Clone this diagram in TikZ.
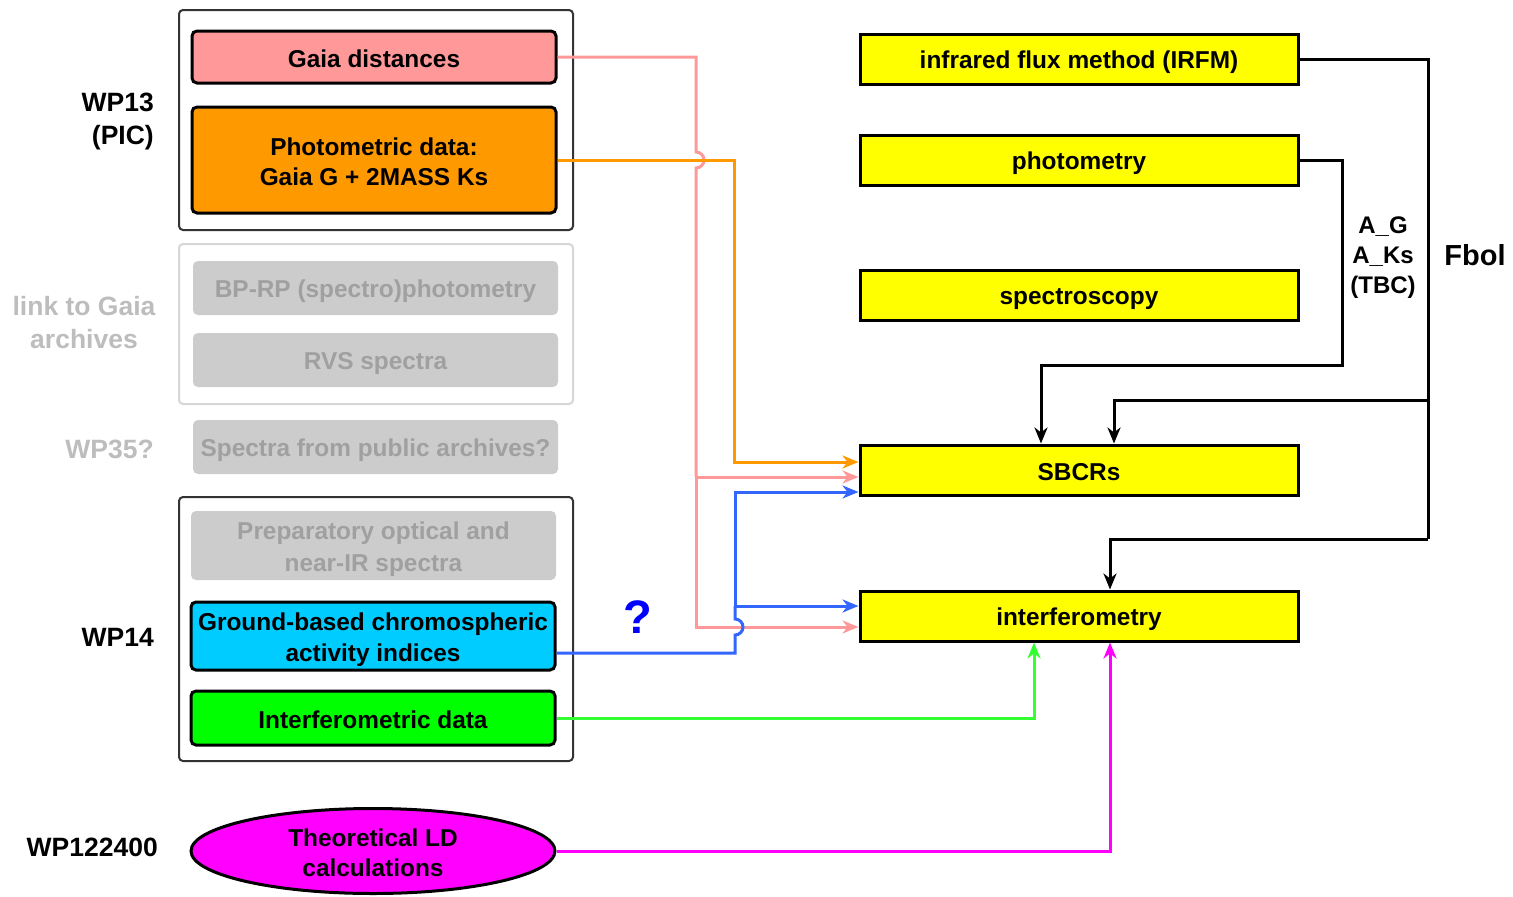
\documentclass[tikz,border=0pt]{standalone}
\usepackage{fontspec}
\setmainfont{Liberation Sans}
\usetikzlibrary{arrows.meta,calc,shapes.geometric}

\definecolor{salmonfill}{HTML}{FF9999}
\definecolor{orangefill}{HTML}{FF9900}
\definecolor{cyanfill}{HTML}{00CCFF}
\definecolor{greenfill}{HTML}{00FF00}
\definecolor{magentafill}{HTML}{FF00FF}
\definecolor{yellowfill}{HTML}{FFFF00}
\definecolor{boxgrey}{HTML}{CCCCCC}
\definecolor{greytext}{HTML}{A0A0A0}
\definecolor{labelgrey}{HTML}{BDBDBD}
\definecolor{frameblack}{HTML}{333333}
\definecolor{framegrey}{HTML}{D6D6D6}
\definecolor{pinkline}{HTML}{FF9999}
\definecolor{orangeline}{HTML}{FF9900}
\definecolor{blueline}{HTML}{3366FF}
\definecolor{greenline}{HTML}{33FF33}
\definecolor{magentaline}{HTML}{FF00FF}

\newcommand\boxfont{\fontsize{24.4}{30}\selectfont\bfseries}
\newcommand\lblfont{\fontsize{26.5}{33}\selectfont\bfseries}
% line strut: keeps the text of every box at the same optical height
\newcommand\lnstrut{\rule[-5pt]{0pt}{30pt}}

\tikzset{
  frame/.style={draw=frameblack, line width=2pt, rounded corners=4pt,
    minimum width=394pt, inner sep=0pt},
  greyframe/.style={draw=framegrey, line width=2pt, rounded corners=4pt,
    minimum width=394pt, inner sep=0pt},
  databox/.style={draw=black, line width=3pt, rounded corners=5pt,
    minimum width=364pt, inner sep=0pt, align=center, font=\boxfont},
  greybox/.style={fill=boxgrey, rounded corners=5pt, text=greytext,
    minimum width=365pt, inner sep=0pt, align=center, font=\boxfont},
  ybox/.style={draw=black, fill=yellowfill, line width=3pt,
    minimum width=438pt, minimum height=50pt, inner sep=0pt, font=\boxfont},
  sidelabel/.style={font=\lblfont, inner sep=0pt, align=right, anchor=east},
  conn/.style={line width=3pt, -{Stealth[length=16pt,width=13pt,inset=5pt]}},
  plainconn/.style={line width=3pt},
}

\begin{document}
\begin{tikzpicture}[x=1pt,y=1pt]
\useasboundingbox (0,0) rectangle (1513,-897);

% left-hand group frames
\node[frame, minimum height=220pt] (wpA) at (376,-120) {};
\node[greyframe, minimum height=160pt] (gaiaarch) at (376,-324) {};
\node[frame, minimum height=264pt] (wpB) at (376,-629) {};

% data sources
\node[databox, fill=salmonfill, minimum height=52pt] (gaia) at (374,-57) {\lnstrut Gaia distances};
\node[databox, fill=orangefill, minimum height=106pt] (photo) at (374,-160) {\lnstrut Photometric data:\\\lnstrut Gaia G + 2MASS Ks};
\node[greybox, minimum height=54pt] (bprp) at (375.5,-288) {\lnstrut BP-RP (spectro)photometry};
\node[greybox, minimum height=54pt] (rvs) at (375.5,-360) {\lnstrut RVS spectra};
\node[greybox, minimum height=54pt] (pubspec) at (375.5,-447) {\lnstrut Spectra from public archives?};
\node[greybox, minimum height=69pt] (prep) at (373.5,-545.5) {\lnstrut Preparatory optical and\\\lnstrut near-IR spectra};
\node[databox, fill=cyanfill, minimum height=68pt] (ground) at (373,-636) {\lnstrut Ground-based chromospheric\\\lnstrut activity indices};
\node[databox, fill=greenfill, minimum height=54pt] (idata) at (373,-718) {\lnstrut Interferometric data};
\node[draw=black, line width=3pt, fill=magentafill, ellipse, minimum width=364pt,
  minimum height=85pt, inner sep=0pt, align=center, font=\boxfont] (ldcalc) at (373,-851)
  {\lnstrut Theoretical LD\\\lnstrut calculations};

% work-package labels
\node[sidelabel] (lblA) at (154,-121) {WP13\\(PIC)};
\node[font=\lblfont, inner sep=0pt, align=center, text=labelgrey] (lblarch) at (84,-323) {link to Gaia\\archives};
\node[sidelabel, text=labelgrey] (lblC) at (154,-449) {WP35?};
\node[sidelabel] (lblB) at (154,-637) {WP14};
\node[sidelabel] (lblD) at (158,-847) {WP122400};

% methods
\node[ybox] (irfm) at (1079,-59) {\lnstrut infrared flux method (IRFM)};
\node[ybox] (phot) at (1079,-160) {\lnstrut photometry};
\node[ybox] (spec) at (1079,-295) {\lnstrut spectroscopy};
\node[ybox] (sbcr) at (1079,-470) {\lnstrut SBCRs};
\node[ybox] (interf) at (1079,-616) {\lnstrut interferometry};

% Gaia distances (hops over the photometry line)
\coordinate (pinkA) at (696,-477);
\draw[pinkline, plainconn] (gaia.east) -| (696,-152)
  arc[start angle=90, end angle=-90, radius=8] -- (pinkA);
\draw[pinkline, conn] (pinkA) -- ($(sbcr.west)+(0,-7)$);
\draw[pinkline, conn] (pinkA) |- ($(interf.west)+(0,-11)$);

% photometric data
\draw[orangeline, conn] (photo.east) -| (734,-462) -- ($(sbcr.west)+(0,8)$);

% chromospheric activity indices (hops over the distance line)
\coordinate (blueA) at (735,-606);
\draw[blueline, plainconn] ($(ground.east)+(0,-17)$) -| (735,-635)
  arc[start angle=-90, end angle=90, radius=8] -- (blueA);
\draw[blueline, conn] (blueA) -- ($(interf.west)+(0,10)$);
\draw[blueline, conn] (blueA) |- ($(sbcr.west)+(0,-22)$);
\node[text=blue, font=\fontsize{47}{50}\selectfont\bfseries, inner sep=0pt] (qmark) at (638,-617) {?};

% interferometric data and limb-darkening models
\draw[greenline, conn] (idata.east) -| ($(interf.south)+(-45,0)$);
\draw[magentaline, conn] (ldcalc.east) -| ($(interf.south)+(31,0)$);

% bolometric flux and extinction feeds
\coordinate (fbolA) at (1428,-400);
\draw[black, plainconn] (irfm.east) -| (1428,-539);
\draw[black, conn] (1428,-539) -| ($(interf.north)+(31,0)$);
\draw[black, conn] (fbolA) -| ($(sbcr.north)+(35,0)$);
\draw[black, conn] (phot.east) -| (1342,-365) -| ($(sbcr.north)+(-38,0)$);

\node[font=\fontsize{24}{30}\selectfont\bfseries, align=center, inner sep=0pt] (extlbl) at (1383,-258) {A\_G\\A\_Ks\\(TBC)};
\node[font=\fontsize{29}{32}\selectfont\bfseries, inner sep=0pt] (fbol) at (1475,-255) {Fbol};
\end{tikzpicture}
\end{document}
